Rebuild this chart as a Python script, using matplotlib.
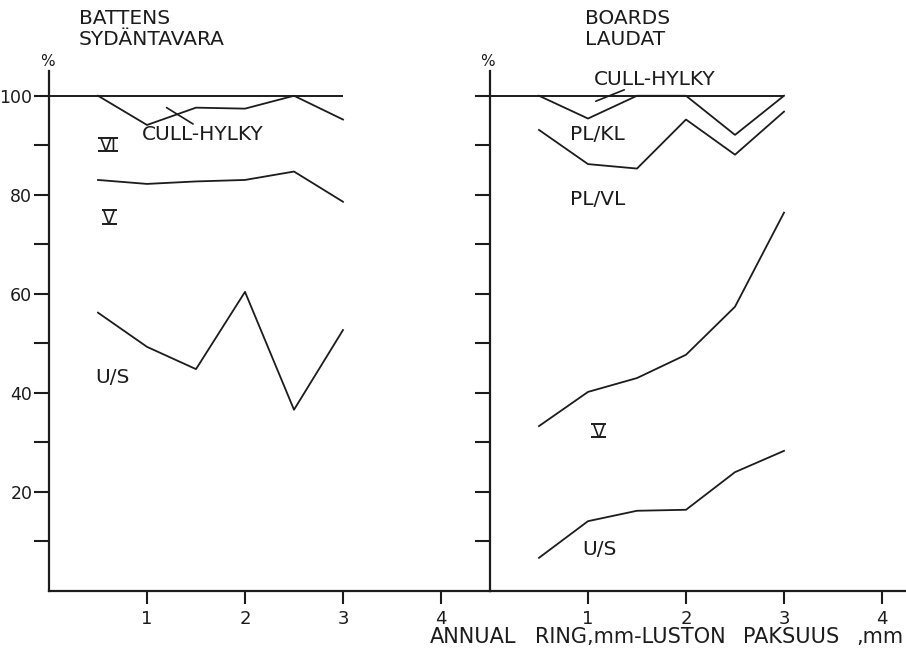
import matplotlib
matplotlib.use("Agg")
import matplotlib.pyplot as plt

# ring width classes, mm
ring_width = [0.5, 1.0, 1.5, 2.0, 2.5, 3.0]

# Battens (sydäntavara): cumulative grade boundaries, %
battens_cull = [100.0, 94.1, 97.6, 97.4, 100.0, 95.2]
battens_vi = [83.0, 82.2, 82.7, 83.0, 84.7, 78.6]
battens_us = [56.2, 49.3, 44.8, 60.4, 36.6, 52.7]

# Boards (laudat): cumulative grade boundaries, %
boards_cull = [100.0, 95.4, 100.0, 100.0, 92.1, 100.0]
boards_plkl = [93.1, 86.2, 85.3, 95.2, 88.1, 96.8]
boards_v = [33.3, 40.2, 43.0, 47.7, 57.4, 76.4]
boards_us = [6.7, 14.1, 16.2, 16.4, 24.0, 28.3]

x_ticks = [1, 2, 3, 4]
y_major = [20, 40, 60, 80, 100]
y_minor = [10, 30, 50, 70, 90]

INK = "#1c1c1c"
FONT = "DejaVu Sans"
plt.rcParams["font.family"] = FONT

W, H = 906, 650
fig = plt.figure(figsize=(W / 100, H / 100), dpi=100)

x0_px, split_px, y0_px, ytop_px = 49, 490, 591, 71
ax_l = fig.add_axes([x0_px / W, (H - y0_px) / H, (split_px - x0_px) / W,
                     (y0_px - ytop_px) / H])
ax_r = fig.add_axes([split_px / W, (H - y0_px) / H, (W - split_px) / W,
                     (y0_px - ytop_px) / H])

ax_l.set_xlim(0, (split_px - x0_px) / 98.0)
ax_r.set_xlim(0, (W - split_px) / 98.0)

for ax, labels in ((ax_l, True), (ax_r, False)):
    ax.set_ylim(0, 105)
    for s in ("top", "right"):
        ax.spines[s].set_visible(False)
    for s in ("left", "bottom"):
        ax.spines[s].set_linewidth(1.6)
        ax.spines[s].set_color(INK)
    ax.set_xticks(x_ticks)
    ax.set_xticklabels([str(t) for t in x_ticks])
    ax.set_yticks(y_major)
    ax.set_yticks(y_minor, minor=True)
    ax.set_yticklabels([str(t) for t in y_major] if labels else [])
    ax.tick_params(axis="both", which="both", direction="out", length=11,
                   width=1.5, color=INK, labelcolor=INK, labelsize=13, pad=2)
    ax.tick_params(axis="y", labelsize=12.5, pad=1)
    ax.tick_params(axis="x", length=9, pad=5)
    ax.patch.set_alpha(0)
    # 100 % reference line
    ax.hlines(100, 0, 3, color=INK, lw=1.4)

lw = 1.3
ax_l.plot(ring_width, battens_cull, color=INK, lw=lw)
ax_l.plot(ring_width, battens_vi, color=INK, lw=lw)
ax_l.plot(ring_width, battens_us, color=INK, lw=lw)

ax_r.plot(ring_width, boards_cull, color=INK, lw=lw)
ax_r.plot(ring_width, boards_plkl, color=INK, lw=lw)
ax_r.plot(ring_width, boards_v, color=INK, lw=lw)
ax_r.plot(ring_width, boards_us, color=INK, lw=lw)

lab = dict(color=INK, fontsize=14.5, va="center", ha="left")


def roman(ax, x, y, s, half_w, half_h):
    ax.text(x, y, s, color=INK, fontsize=12.5, ha="center", va="center_baseline")
    ax.hlines([y + half_h, y - half_h], x - half_w, x + half_w, color=INK, lw=1.4)


# battens labels
ax_l.text(0.95, 92.1, "CULL-HYLKY", **lab)
ax_l.annotate("", xy=(1.2, 97.6), xytext=(1.47, 94.3),
              arrowprops=dict(arrowstyle="-", color=INK, lw=1.2,
                              shrinkA=0, shrinkB=0))
roman(ax_l, 0.605, 90.2, "VI", 0.1, 1.3)
roman(ax_l, 0.615, 75.6, "V", 0.075, 1.4)
ax_l.text(0.47, 43.2, "U/S", **lab)

# boards labels
ax_r.text(1.06, 103.2, "CULL-HYLKY", **lab)
ax_r.annotate("", xy=(1.08, 98.9), xytext=(1.37, 101.2),
              arrowprops=dict(arrowstyle="-", color=INK, lw=1.2,
                              shrinkA=0, shrinkB=0))
ax_r.text(0.82, 92.1, "PL/KL", **lab)
ax_r.text(0.82, 79.0, "PL/VL", **lab)
roman(ax_r, 1.11, 32.4, "V", 0.075, 1.4)
ax_r.text(0.94, 8.3, "U/S", **lab)

# headings
fig.text(79 / W, 1 - 29 / H, "BATTENS\nSYDÄNTAVARA", color=INK, fontsize=14.5,
         ha="left", va="center", linespacing=1.12)
fig.text(585 / W, 1 - 29 / H, "BOARDS\nLAUDAT", color=INK, fontsize=14.5,
         ha="left", va="center", linespacing=1.12)
fig.text(47 / W, 1 - 61 / H, "%", color=INK, fontsize=11, ha="center", va="center")
fig.text(487 / W, 1 - 61 / H, "%", color=INK, fontsize=11, ha="center", va="center")

# axis title, set word by word with generous spacing
for xpx, word, align in ((430, "ANNUAL", "left"), (535, "RING,mm-LUSTON", "left"),
                         (743, "PAKSUUS", "left"), (903, ",mm", "right")):
    fig.text(xpx / W, 1 - 635 / H, word, color=INK, fontsize=15,
             ha=align, va="center_baseline")

fig.savefig("out.png", dpi=100, facecolor="white")
